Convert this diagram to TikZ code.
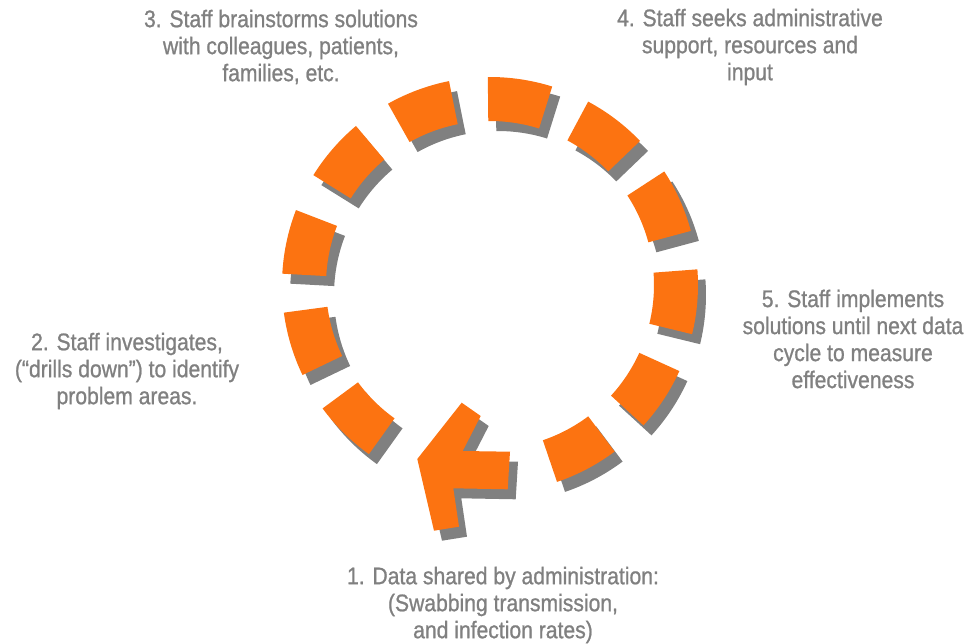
\documentclass[tikz,border=0pt]{standalone}
\usepackage{fontspec}
\setmainfont{Liberation Sans}[FakeStretch=0.88,FakeBold=0.9]
\usepackage{tikz}

\definecolor{ringorange}{RGB}{252,115,17}
\definecolor{shadowgray}{RGB}{128,128,128}
\definecolor{textgray}{RGB}{128,128,128}

\begin{document}
\begin{tikzpicture}[x=0.75pt,y=0.75pt,
  stagetext/.style={align=center,text=textgray,inner sep=0pt,
    font=\fontsize{18}{20.25}\selectfont},
  dropshadow/.style={fill=shadowgray,shift={(8,-10)}},
  ringpiece/.style={fill=ringorange}]
  \useasboundingbox (-490,-358) rectangle (483,285);
  % shadows
  \foreach \k in {0,...,10} {
    \pgfmathsetmacro\t{225.4-28.76*\k}
    \fill[dropshadow] ({\t-9}:164) arc[start angle=\t-9,end angle=\t+9,radius=164]
      -- ({\t+9}:208) arc[start angle=\t+9,end angle=\t-9,radius=208] -- cycle;
  }
  \fill[dropshadow] (-72.7,-174) -- (-28.3,-117.7) -- (-9.3,-131) -- (-27.3,-166)
    -- (20,-166.7) -- (17.7,-204.3) -- (-36.7,-203.3) -- (-31,-241.7)
    -- (-56,-245.7) -- cycle;
  % dashes
  \foreach \k in {0,...,10} {
    \pgfmathsetmacro\t{225.4-28.76*\k}
    \fill[ringpiece] ({\t-9}:164) arc[start angle=\t-9,end angle=\t+9,radius=164]
      -- ({\t+9}:208) arc[start angle=\t+9,end angle=\t-9,radius=208] -- cycle;
  }
  \fill[ringpiece] (-72.7,-174) -- (-28.3,-117.7) -- (-9.3,-131) -- (-27.3,-166)
    -- (20,-166.7) -- (17.7,-204.3) -- (-36.7,-203.3) -- (-31,-241.7)
    -- (-56,-245.7) -- cycle;
  % stages
  \node[stagetext] (s1) at (13,-320) {1. Data shared by administration:\\(Swabbing transmission,\\and infection rates)};
  \node[stagetext] (s2) at (-363,-86) {2. Staff investigates,\\(“drills down”) to identify\\problem areas.};
  \node[stagetext] (s3) at (-209,238) {3. Staff brainstorms solutions\\with colleagues, patients,\\families, etc.};
  \node[stagetext] (s4) at (260,238) {4. Staff seeks administrative\\support, resources and\\input};
  \node[stagetext] (s5) at (363,-54) {5. Staff implements\\solutions until next data\\cycle to measure\\effectiveness};
\end{tikzpicture}
\end{document}
